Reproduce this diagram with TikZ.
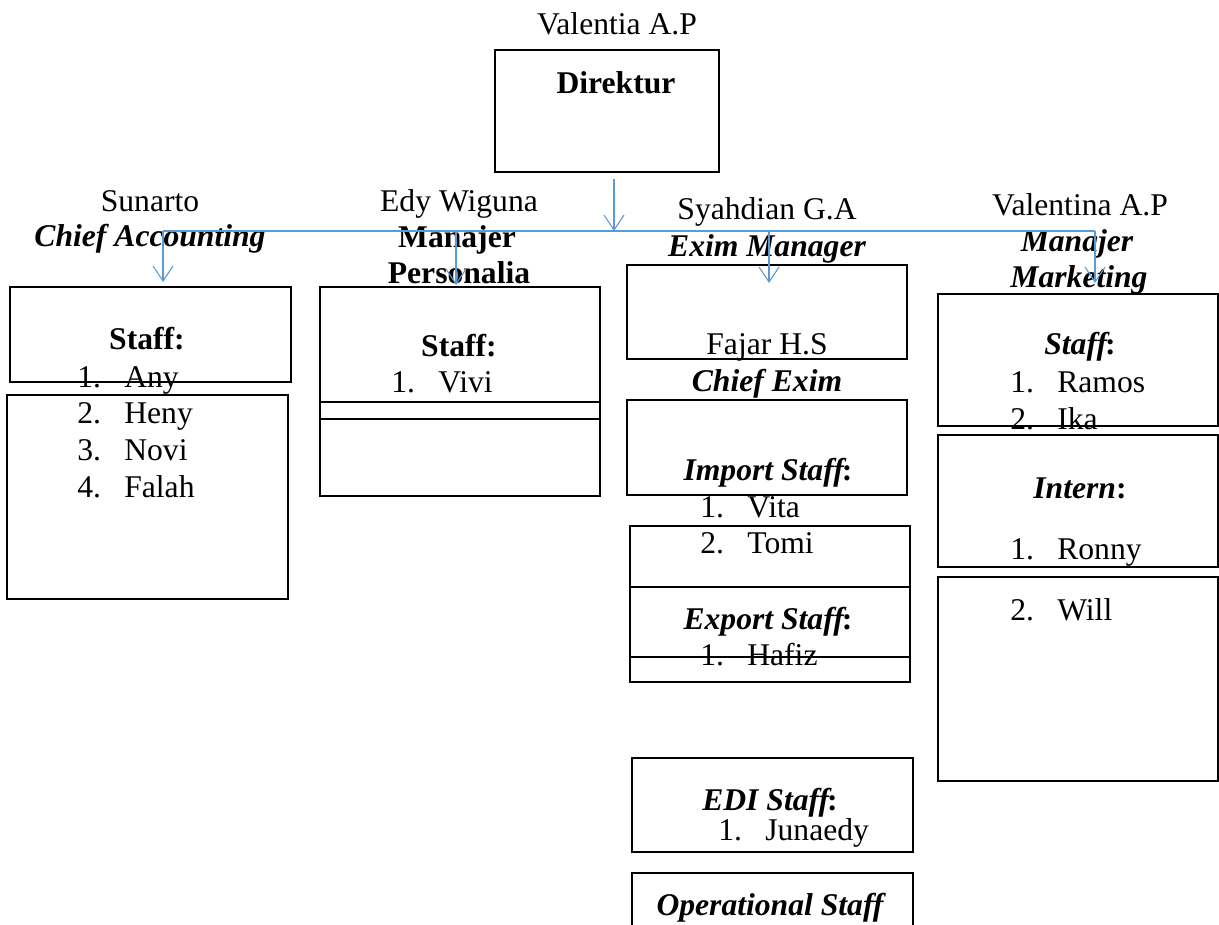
\documentclass[tikz,border=0pt]{standalone}
\usepackage{fontspec}
\setmainfont{Liberation Serif}
\usetikzlibrary{arrows.meta}
\definecolor{linkblue}{HTML}{5B9BD5}
\newcommand{\orgitem}[2]{\makebox[0.94cm][l]{#1}#2}
\newcommand{\bi}[1]{{\bfseries\itshape #1}}
\newcommand{\bicolon}{\kern-0.06em\textbf{:}}
\tikzset{
  box/.style={draw=black, line width=1.1pt},
  link/.style={draw=linkblue, line width=0.6pt},
  arr/.style={link, -{Straight Barb[length=3mm,width=4mm]}},
  txt/.style={anchor=base, inner sep=0pt},
  item/.style={anchor=base west, inner sep=0pt}
}
\begin{document}
\fontsize{18}{21}\selectfont
\begin{tikzpicture}[x=0.02cm, y=-0.02cm]
  \useasboundingbox (0,0) rectangle (1219,925);

  \draw[box] (495,50) rectangle (719,172);
  \node[txt] (dirname) at (617,35) {Valentia A.P};
  \node[txt] (direktur) at (616,94) {\textbf{Direktur}};

  \draw[box] (10,287) rectangle (291,382);
  \draw[box] (7,395) rectangle (288,599);
  \node[txt] (sunarto) at (150,212) {Sunarto};
  \node[txt] (chiefacc) at (150,247) {\bi{Chief Accounting}};
  \node[txt] (accstaff) at (147,350) {\textbf{Staff:}};
  \node[item] (any) at (77,387) {\orgitem{1.}{Any}};
  \node[item] (heny) at (77,423) {\orgitem{2.}{Heny}};
  \node[item] (novi) at (77,460) {\orgitem{3.}{Novi}};
  \node[item] (falah) at (77,497) {\orgitem{4.}{Falah}};

  \draw[box] (320,287) rectangle (600,496);
  \draw[box] (320,402) -- (600,402);
  \draw[box] (320,419) -- (600,419);
  \node[txt] (edy) at (459,212) {Edy Wiguna};
  \node[txt] (manpers) at (457,248) {\textbf{Manajer}};
  \node[txt] (personalia) at (459,284) {\textbf{Personalia}};
  \node[txt] (persstaff) at (459,357) {\textbf{Staff:}};
  \node[item] (vivi) at (391,393) {\orgitem{1.}{Vivi}};

  \draw[box] (627,265) rectangle (907,359);
  \draw[box] (627,400) rectangle (907,495);
  \draw[box] (630,526) rectangle (910,682);
  \draw[box] (630,587) -- (910,587);
  \draw[box] (630,657) -- (910,657);
  \draw[box] (632,758) rectangle (913,852);
  \draw[box] (632,925) -- (632,873) -- (913,873) -- (913,925);
  \node[txt] (syahdian) at (767,220) {Syahdian G.A};
  \node[txt] (eximman) at (767,257) {\bi{Exim Manager}};
  \node[txt] (fajar) at (767,355) {Fajar H.S};
  \node[txt] (chiefexim) at (767,392) {\bi{Chief Exim}};
  \node[txt] (import) at (768,480) {\bi{Import Staff}\bicolon};
  \node[item] (vita) at (700,517) {\orgitem{1.}{Vita}};
  \node[item] (tomi) at (700,553) {\orgitem{2.}{Tomi}};
  \node[txt] (export) at (768,629) {\bi{Export Staff}\bicolon};
  \node[item] (hafiz) at (700,665) {\orgitem{1.}{Hafiz}};
  \node[txt] (edi) at (770,810) {\bi{EDI Staff}\bicolon};
  \node[item] (junaedy) at (718,840) {\orgitem{1.}{Junaedy}};
  \node[txt] (operational) at (770,915) {\bi{Operational Staff}};

  \draw[box] (938,294) rectangle (1218,426);
  \draw[box] (938,435) rectangle (1218,567);
  \draw[box] (938,577) rectangle (1218,781);
  \node[txt] (valentina) at (1080,216) {Valentina A.P};
  \node[txt] (manmark) at (1077,252) {\bi{Manajer}};
  \node[txt] (marketing) at (1079,288) {\bi{Marketing}};
  \node[txt] (markstaff) at (1080,355) {\bi{Staff}\bicolon};
  \node[item] (ramos) at (1010,393) {\orgitem{1.}{Ramos}};
  \node[item] (ika) at (1010,429) {\orgitem{2.}{Ika}};
  \node[txt] (intern) at (1080,498) {\bi{Intern}\textbf{:}};
  \node[item] (ronny) at (1010,559) {\orgitem{1.}{Ronny}};
  \node[item] (will) at (1010,620) {\orgitem{2.}{Will}};

  \coordinate (dirout) at (614,179);
  \coordinate (busdir) at (614,231);
  \coordinate (busacc) at (163,231);
  \coordinate (buspers) at (456,231);
  \coordinate (busexim) at (769,231);
  \coordinate (busmark) at (1095,231);
  \coordinate (accin) at (163,282);
  \coordinate (persin) at (456,285);
  \coordinate (eximin) at (769,283);
  \coordinate (markin) at (1095,283);
  \draw[arr] (dirout) -- (busdir);
  \draw[link] (busacc) -- (busmark);
  \draw[arr] (busacc) -- (accin);
  \draw[arr] (buspers) -- (persin);
  \draw[arr] (busexim) -- (eximin);
  \draw[arr] (busmark) -- (markin);
\end{tikzpicture}
\end{document}
